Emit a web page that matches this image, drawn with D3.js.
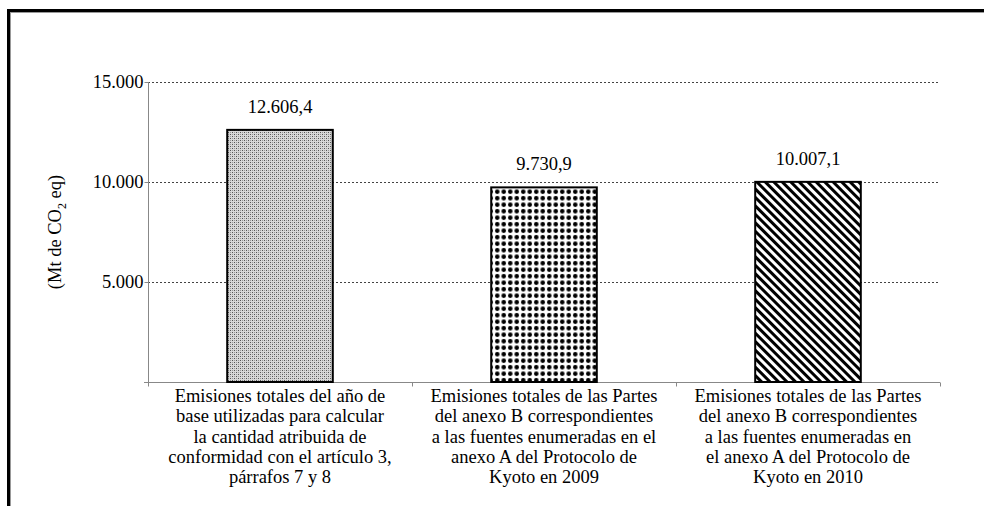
<!DOCTYPE html>
<html>
<head>
<meta charset="utf-8">
<script src="https://cdn.jsdelivr.net/npm/d3@7"></script>
<style>
body { margin: 0; background: #fff; }
text { font-family: "Liberation Serif", "Times New Roman", serif; }
</style>
</head>
<body>
<div id="chart"></div>
<script>
var categories = [
  ["Emisiones totales del año de", "base utilizadas para calcular", "la cantidad atribuida de", "conformidad con el artículo 3,", "párrafos 7 y 8"],
  ["Emisiones totales de las Partes", "del anexo B correspondientes", "a las fuentes enumeradas en el", "anexo A del Protocolo de", "Kyoto en 2009"],
  ["Emisiones totales de las Partes", "del anexo B correspondientes", "a las fuentes enumeradas en", "el anexo A del Protocolo de", "Kyoto en 2010"]
];
var values = [12606.4, 9730.9, 10007.1];
var valueLabels = ["12.606,4", "9.730,9", "10.007,1"];
var yTicks = [5000, 10000, 15000];
var yTickLabels = ["5.000", "10.000", "15.000"];

var w = 984, h = 506;
var plotLeft = 148, plotRight = 940, plotTop = 82, plotBottom = 382;
var fs = 18.5;

var svg = d3.select("#chart")
  .append("svg")
  .attr("width", w)
  .attr("height", h);

// patterns
var defs = svg.append("defs");

var p1 = defs.append("pattern")
  .attr("id", "pat1").attr("patternUnits", "userSpaceOnUse")
  .attr("width", 4).attr("height", 4);
p1.append("rect").attr("width", 4).attr("height", 4).attr("fill", "#d8d8d8");
p1.append("rect").attr("x", 0).attr("y", 0).attr("width", 1).attr("height", 1).attr("fill", "#555");
p1.append("rect").attr("x", 2).attr("y", 2).attr("width", 1).attr("height", 1).attr("fill", "#555");
p1.append("rect").attr("x", 2).attr("y", 0).attr("width", 1).attr("height", 1).attr("fill", "#999");
p1.append("rect").attr("x", 0).attr("y", 2).attr("width", 1).attr("height", 1).attr("fill", "#999");

var p2 = defs.append("pattern")
  .attr("id", "pat2").attr("patternUnits", "userSpaceOnUse")
  .attr("width", 6.5).attr("height", 6.5);
p2.append("rect").attr("width", 6.5).attr("height", 6.5).attr("fill", "#fff");
p2.append("circle").attr("cx", 3.25).attr("cy", 3.25).attr("r", 2.3).attr("fill", "#000");

var p3 = defs.append("pattern")
  .attr("id", "pat3").attr("patternUnits", "userSpaceOnUse")
  .attr("width", 6).attr("height", 6)
  .attr("patternTransform", "rotate(45)");
p3.append("rect").attr("width", 6).attr("height", 6).attr("fill", "#fff");
p3.append("rect").attr("x", 0).attr("y", 0).attr("width", 6).attr("height", 3).attr("fill", "#000");

var patterns = ["url(#pat1)", "url(#pat2)", "url(#pat3)"];

// outer frame (cut off at right and bottom)
svg.append("rect")
  .attr("x", 8.5).attr("y", 10.5)
  .attr("width", w + 20).attr("height", h + 20)
  .attr("fill", "none").attr("stroke", "#000").attr("stroke-width", 3);
svg.append("rect")
  .attr("x", 10.5).attr("y", 12.5)
  .attr("width", w + 20).attr("height", h + 20)
  .attr("fill", "none").attr("stroke", "#999").attr("stroke-width", 1);

var xScale = d3.scaleBand()
  .domain(d3.range(categories.length))
  .range([plotLeft, plotRight])
  .paddingInner(0.6)
  .paddingOuter(0.3);

var yScale = d3.scaleLinear()
  .domain([0, 15000])
  .range([plotBottom, plotTop]);

// gridlines
svg.append("g")
  .selectAll("line")
  .data(yTicks)
  .enter()
  .append("line")
  .attr("x1", plotLeft).attr("x2", plotRight)
  .attr("y1", function(d) { return Math.round(yScale(d)) + 0.5; })
  .attr("y2", function(d) { return Math.round(yScale(d)) + 0.5; })
  .attr("stroke", "#444")
  .attr("stroke-dasharray", "2,2");

// y axis
var yAxis = d3.axisLeft(yScale)
  .tickValues(yTicks)
  .tickFormat(function(d, i) { return yTickLabels[i]; })
  .tickSize(4)
  .tickPadding(1);

var gy = svg.append("g")
  .attr("transform", "translate(" + (plotLeft + 0.5) + ",0)")
  .call(yAxis);
gy.select(".domain").attr("stroke", "#888").attr("d", "M0," + plotTop + "V" + plotBottom);
gy.selectAll(".tick line").attr("stroke", "#888");
gy.selectAll(".tick text")
  .attr("font-family", "Liberation Serif, serif")
  .attr("font-size", fs)
  .attr("fill", "#000");

// x axis
var gx = svg.append("g")
  .attr("transform", "translate(0," + (plotBottom + 0.5) + ")");
gx.append("line")
  .attr("x1", plotLeft - 4).attr("x2", plotRight)
  .attr("stroke", "#888");
gx.selectAll(".ctick")
  .data(d3.range(categories.length + 1))
  .enter()
  .append("line")
  .attr("class", "ctick")
  .attr("x1", function(i) { return Math.round(plotLeft + i * xScale.step()) + 0.5; })
  .attr("x2", function(i) { return Math.round(plotLeft + i * xScale.step()) + 0.5; })
  .attr("y1", 0).attr("y2", 4)
  .attr("stroke", "#888");

// bars
svg.append("g")
  .selectAll("rect")
  .data(values)
  .enter()
  .append("rect")
  .attr("x", function(d, i) { return xScale(i); })
  .attr("y", function(d) { return yScale(d); })
  .attr("width", xScale.bandwidth())
  .attr("height", function(d) { return yScale(0) - yScale(d); })
  .attr("fill", function(d, i) { return patterns[i]; })
  .attr("stroke", "#000")
  .attr("stroke-width", 2);

// value labels
svg.append("g")
  .selectAll("text")
  .data(values)
  .enter()
  .append("text")
  .attr("x", function(d, i) { return xScale(i) + xScale.bandwidth() / 2; })
  .attr("y", function(d) { return yScale(d) - 17; })
  .attr("text-anchor", "middle")
  .attr("font-size", fs)
  .text(function(d, i) { return valueLabels[i]; });

// category labels
var cats = svg.append("g")
  .selectAll("text")
  .data(categories)
  .enter()
  .append("text")
  .attr("text-anchor", "middle")
  .attr("font-size", fs)
  .attr("x", function(d, i) { return xScale(i) + xScale.bandwidth() / 2; })
  .attr("y", plotBottom + 20);
cats.selectAll("tspan")
  .data(function(d) { return d; })
  .enter()
  .append("tspan")
  .attr("x", function() { return d3.select(this.parentNode).attr("x"); })
  .attr("dy", function(d, i) { return i === 0 ? 0 : 20.3; })
  .text(function(d) { return d; });

// y axis title
var yt = svg.append("text")
  .attr("transform", "translate(61," + ((plotTop + plotBottom) / 2) + ") rotate(-90)")
  .attr("text-anchor", "middle")
  .attr("font-size", fs);
yt.append("tspan").text("(Mt de CO");
yt.append("tspan").attr("font-size", 12).attr("dy", 5).text("2");
yt.append("tspan").attr("dy", -5).text(" eq)");
</script>
</body>
</html>
